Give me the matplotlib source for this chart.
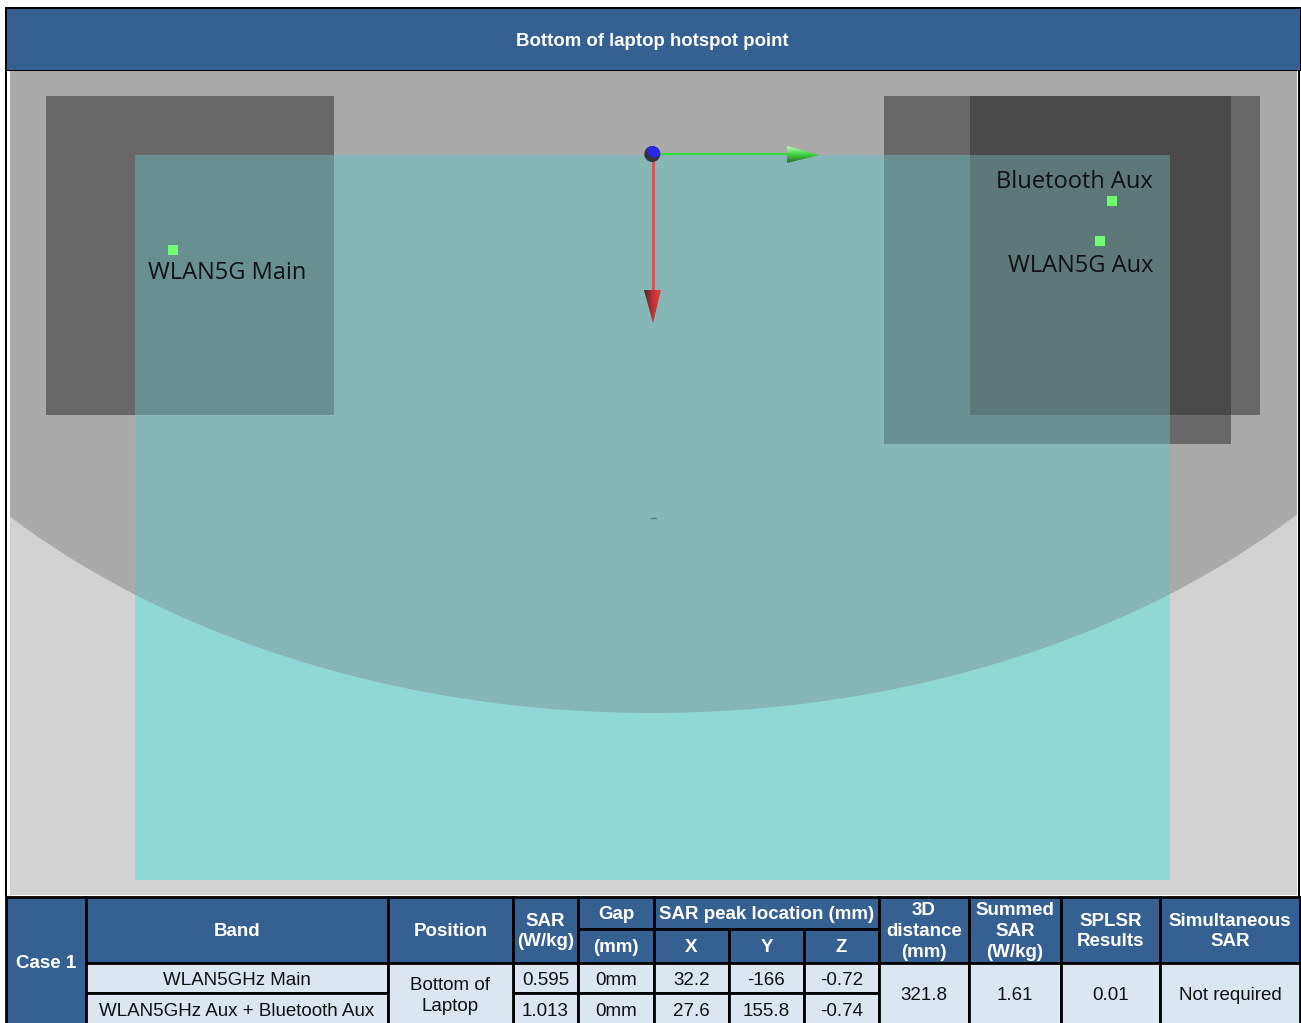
import matplotlib
matplotlib.use('Agg')
import matplotlib.pyplot as plt
import numpy as np
from matplotlib.patches import Rectangle, Circle, Ellipse, Polygon

# table contents
bands = ['WLAN5GHz Main', 'WLAN5GHz Aux + Bluetooth Aux']
sar = ['0.595', '1.013']
gap = ['0mm', '0mm']
peak_x = ['32.2', '27.6']
peak_y = ['-166', '155.8']
peak_z = ['-0.72', '-0.74']
position = 'Bottom of\nLaptop'
distance_3d = '321.8'
summed_sar = '1.61'
splsr = '0.01'
simultaneous = 'Not required'

title = 'Bottom of laptop hotspot point'

# antenna markers: label, marker x, marker y, label x, label y
antennas = ['WLAN5G Main', 'Bluetooth Aux', 'WLAN5G Aux']
marker_x = [173, 1112, 1100]
marker_y = [250, 201, 241]
label_x = [148, 1153, 1154]
label_y = [273, 182, 266]
label_ha = ['left', 'right', 'right']

BLUE = '#366092'
CELL = '#DCE6F1'
FONT = 'Liberation Sans'

fig = plt.figure(figsize=(13.01, 10.23), dpi=100)
ax = fig.add_axes([0, 0, 1, 1])
ax.axis('off')


def box(x0, y0, x1, y1, color, edge=None, lw=0, z=1):
    r = Rectangle((x0, y0), x1 - x0, y1 - y0, facecolor=color,
                  edgecolor=edge if edge else 'none', linewidth=lw, zorder=z)
    ax.add_patch(r)
    return r


def head_shape(**kw):
    return Ellipse((652, 92), 2 * 880, 2 * 621, **kw)


# frame and header
box(0, 0, 1301, 1023, 'white', z=0)
box(5, 7.3, 1301, 71, 'black', z=1)
box(7, 9, 1300, 70, BLUE, z=2)
box(5, 8, 7, 897, 'black', z=1)
box(1298, 70, 1300, 897, 'black', z=1)
ax.text(652.5, 41.5, title, color='white', fontsize=13.4, fontweight='bold',
        family=FONT, ha='center', va='center', zorder=5)

# scene background and the grey disc
box(10, 71, 1296.5, 895, '#D2D2D2', z=1)
disc = head_shape(facecolor='#AAAAAA', edgecolor='none', zorder=1.1)
ax.add_patch(disc)
disc.set_clip_path(Rectangle((10, 71), 1286.5, 824, transform=ax.transData))

# dark antenna blocks, then the overlap
box(45.5, 96, 334, 415, '#686868', z=1.2)
box(884, 96, 1231, 444, '#686868', z=1.2)
box(970, 96, 1260, 415, '#686868', z=1.2)
box(970, 96, 1231, 415, '#4A4A4A', z=1.3)

# teal plate, with the shade it takes over each thing below it
box(135, 155, 1170, 880, '#90D8D6', z=1.4)
plate = box(135, 155, 1170, 880, '#86B6B6', z=1.5)
plate.set_clip_path(head_shape(transform=ax.transData))
box(135, 155, 334, 415, '#689090', z=1.6)
box(884, 155, 1170, 444, '#689090', z=1.6)
box(970, 155, 1170, 415, '#5C7878', z=1.7)
ax.plot([651, 656], [518, 518], color='#5F8080', lw=1, zorder=1.8)

# axis arrows
ax.plot([660, 790], [154, 154], color='#33DD33', lw=1.5, zorder=3)
ax.plot([652.7, 652.7], [160, 292], color='#D85050', lw=2, zorder=3)


def cone(points, colors, vertical):
    grad = np.linspace(0, 1, 32)
    cmap = matplotlib.colors.LinearSegmentedColormap.from_list('c', colors)
    pts = np.array(points)
    img = ax.imshow(grad[:, None] if not vertical else grad[None, :], cmap=cmap,
                    extent=(pts[:, 0].min(), pts[:, 0].max(), pts[:, 1].max(), pts[:, 1].min()),
                    aspect='auto', zorder=3.5, interpolation='bilinear')
    img.set_clip_path(Polygon(points, transform=ax.transData))


cone([(787, 146), (787, 163), (820, 155)], ['#B8FFB8', '#40D040', '#2A6A2A'], False)
cone([(644, 290), (661, 290), (653, 323)], ['#3A2A2A', '#C03030', '#E84040'], True)

# origin ball
ax.add_patch(Circle((652.3, 154), 8, facecolor='#34343C', edgecolor='none', zorder=4))
ball = Circle((654.5, 150.5), 7, facecolor='#2828E8', edgecolor='none', zorder=4.1)
ax.add_patch(ball)
ball.set_clip_path(Circle((652.3, 154), 8, transform=ax.transData))

# antenna points and names
for i in range(len(antennas)):
    box(marker_x[i] - 5, marker_y[i] - 5, marker_x[i] + 5, marker_y[i] + 5, '#70FF70', z=4)
    ax.text(label_x[i], label_y[i], antennas[i], color='#111111', fontsize=17,
            family='Open Sans', ha=label_ha[i], va='center', zorder=5)

# table grid edges
cols = [6, 86, 388, 513, 578, 654, 729, 804, 879, 969, 1061, 1160, 1300]
top, mid, head, row, end = 897, 929, 963, 993, 1040


def cell(c0, c1, y0, y1, text, color, bold=False, ty=None):
    box(cols[c0], y0, cols[c1], y1, color, edge='black', lw=2, z=6)
    ax.text((cols[c0] + cols[c1]) / 2,
            ((y0 + y1) / 2 if ty is None else ty) + 1.5, text,
            color='white' if bold else '#111111', fontsize=13.5,
            fontweight='bold' if bold else 'normal', family=FONT,
            ha='center', va='center', linespacing=1.3, zorder=7)


cell(0, 1, top, end, 'Case 1', BLUE, True, ty=962)
cell(1, 2, top, head, 'Band', BLUE, True)
cell(2, 3, top, head, 'Position', BLUE, True)
cell(3, 4, top, head, 'SAR\n(W/kg)', BLUE, True)
cell(4, 5, top, mid, 'Gap', BLUE, True)
cell(4, 5, mid, head, '(mm)', BLUE, True)
cell(5, 8, top, mid, 'SAR peak location (mm)', BLUE, True)
cell(5, 6, mid, head, 'X', BLUE, True)
cell(6, 7, mid, head, 'Y', BLUE, True)
cell(7, 8, mid, head, 'Z', BLUE, True)
cell(8, 9, top, head, '3D\ndistance\n(mm)', BLUE, True)
cell(9, 10, top, head, 'Summed\nSAR\n(W/kg)', BLUE, True)
cell(10, 11, top, head, 'SPLSR\nResults', BLUE, True)
cell(11, 12, top, head, 'Simultaneous\nSAR', BLUE, True)

for i, (y0, y1) in enumerate([(head, row), (row, end)]):
    ty = 979 if i == 0 else 1010.5
    cell(1, 2, y0, y1, bands[i], CELL, ty=ty)
    cell(3, 4, y0, y1, sar[i], CELL, ty=ty)
    cell(4, 5, y0, y1, gap[i], CELL, ty=ty)
    cell(5, 6, y0, y1, peak_x[i], CELL, ty=ty)
    cell(6, 7, y0, y1, peak_y[i], CELL, ty=ty)
    cell(7, 8, y0, y1, peak_z[i], CELL, ty=ty)

cell(2, 3, head, end, position, CELL, ty=994.5)
cell(8, 9, head, end, distance_3d, CELL, ty=994.5)
cell(9, 10, head, end, summed_sar, CELL, ty=994.5)
cell(10, 11, head, end, splsr, CELL, ty=994.5)
cell(11, 12, head, end, simultaneous, CELL, ty=994.5)

ax.set_xlim(0, 1301)
ax.set_ylim(1023, 0)
fig.savefig('out.png', dpi=100)
